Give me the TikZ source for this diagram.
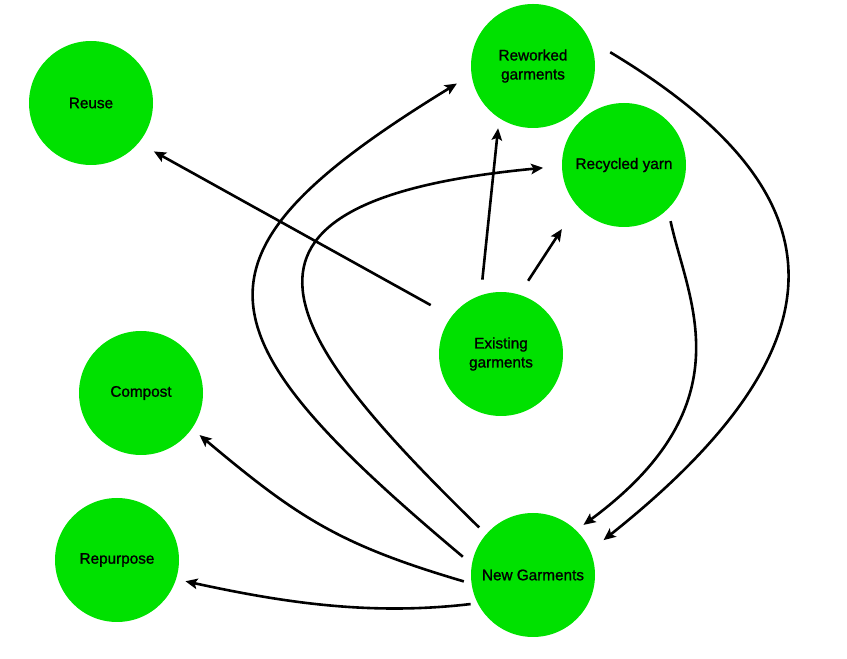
\documentclass[tikz,border=0pt]{standalone}
\usepackage{fontspec}
\setmainfont{Liberation Sans}
\newfontfamily\labelfont{Liberation Sans}[FakeBold=1.2]
\usetikzlibrary{arrows.meta}

\definecolor{leafgreen}{RGB}{0,225,0}

\tikzset{
  garment/.style={circle, fill=leafgreen, minimum size=124pt, inner sep=0pt,
    align=center, font=\labelfont\fontsize{15.3}{19}\selectfont},
  flow/.style={line width=2.6pt, -{Stealth[length=12pt,width=10.5pt,inset=2.5pt]}}
}

\begin{document}
\begin{tikzpicture}[x=1pt,y=1pt]
  \useasboundingbox (0,0) rectangle (847,659);

  % Circles
  \node[garment] (reuse)     at (91,556)  {Reuse};
  \node[garment] (reworked)  at (533,593) {Reworked\\garments};
  \node[garment] (recycled)  at (624,494) {Recycled yarn};
  \node[garment] (existing)  at (501,305) {Existing\\garments};
  \node[garment] (compost)   at (141,266) {Compost};
  \node[garment] (repurpose) at (117,99)  {Repurpose};
  \node[garment] (newg)      at (533,84)  {New Garments};

  % From existing garments
  \draw[flow, shorten <=23.6pt, shorten >=17.4pt] (existing.143) -- (reuse.320);
  \draw[flow, shorten <=15.6pt, shorten >=10.2pt] (existing.109) -- (reworked.237);
  \draw[flow, shorten <=16.4pt, shorten >=27.8pt] (existing.73) -- (recycled.221);

  % Into new garments
  \draw[flow, shorten <=24.3pt, shorten >=17pt] (reworked.25)
    .. controls +(-31:288) and +(38.5:344) .. (newg.23);
  \draw[flow, shorten <=12.4pt, shorten >=9pt] (recycled.-45)
    .. controls +(-78:92) and +(36.4:214) .. (newg.46);

  % Out of new garments
  \draw[flow, shorten <=11.6pt, shorten >=17pt] (newg.170)
    .. controls +(140:362) and +(211.5:347) .. (reworked.188);
  \draw[flow, shorten <=9.6pt, shorten >=18.8pt] (newg.139)
    .. controls +(135.7:280) and +(185.4:380) .. (recycled.181);
  \draw[flow, shorten <=7.9pt, shorten >=9.9pt] (newg.188)
    .. controls +(163.6:138) and +(-40:138) .. (compost.-35);
  \draw[flow, shorten <=7pt, shorten >=9.5pt] (newg.207)
    .. controls +(186.7:108) and +(-12.3:110) .. (repurpose.-18);
\end{tikzpicture}
\end{document}
